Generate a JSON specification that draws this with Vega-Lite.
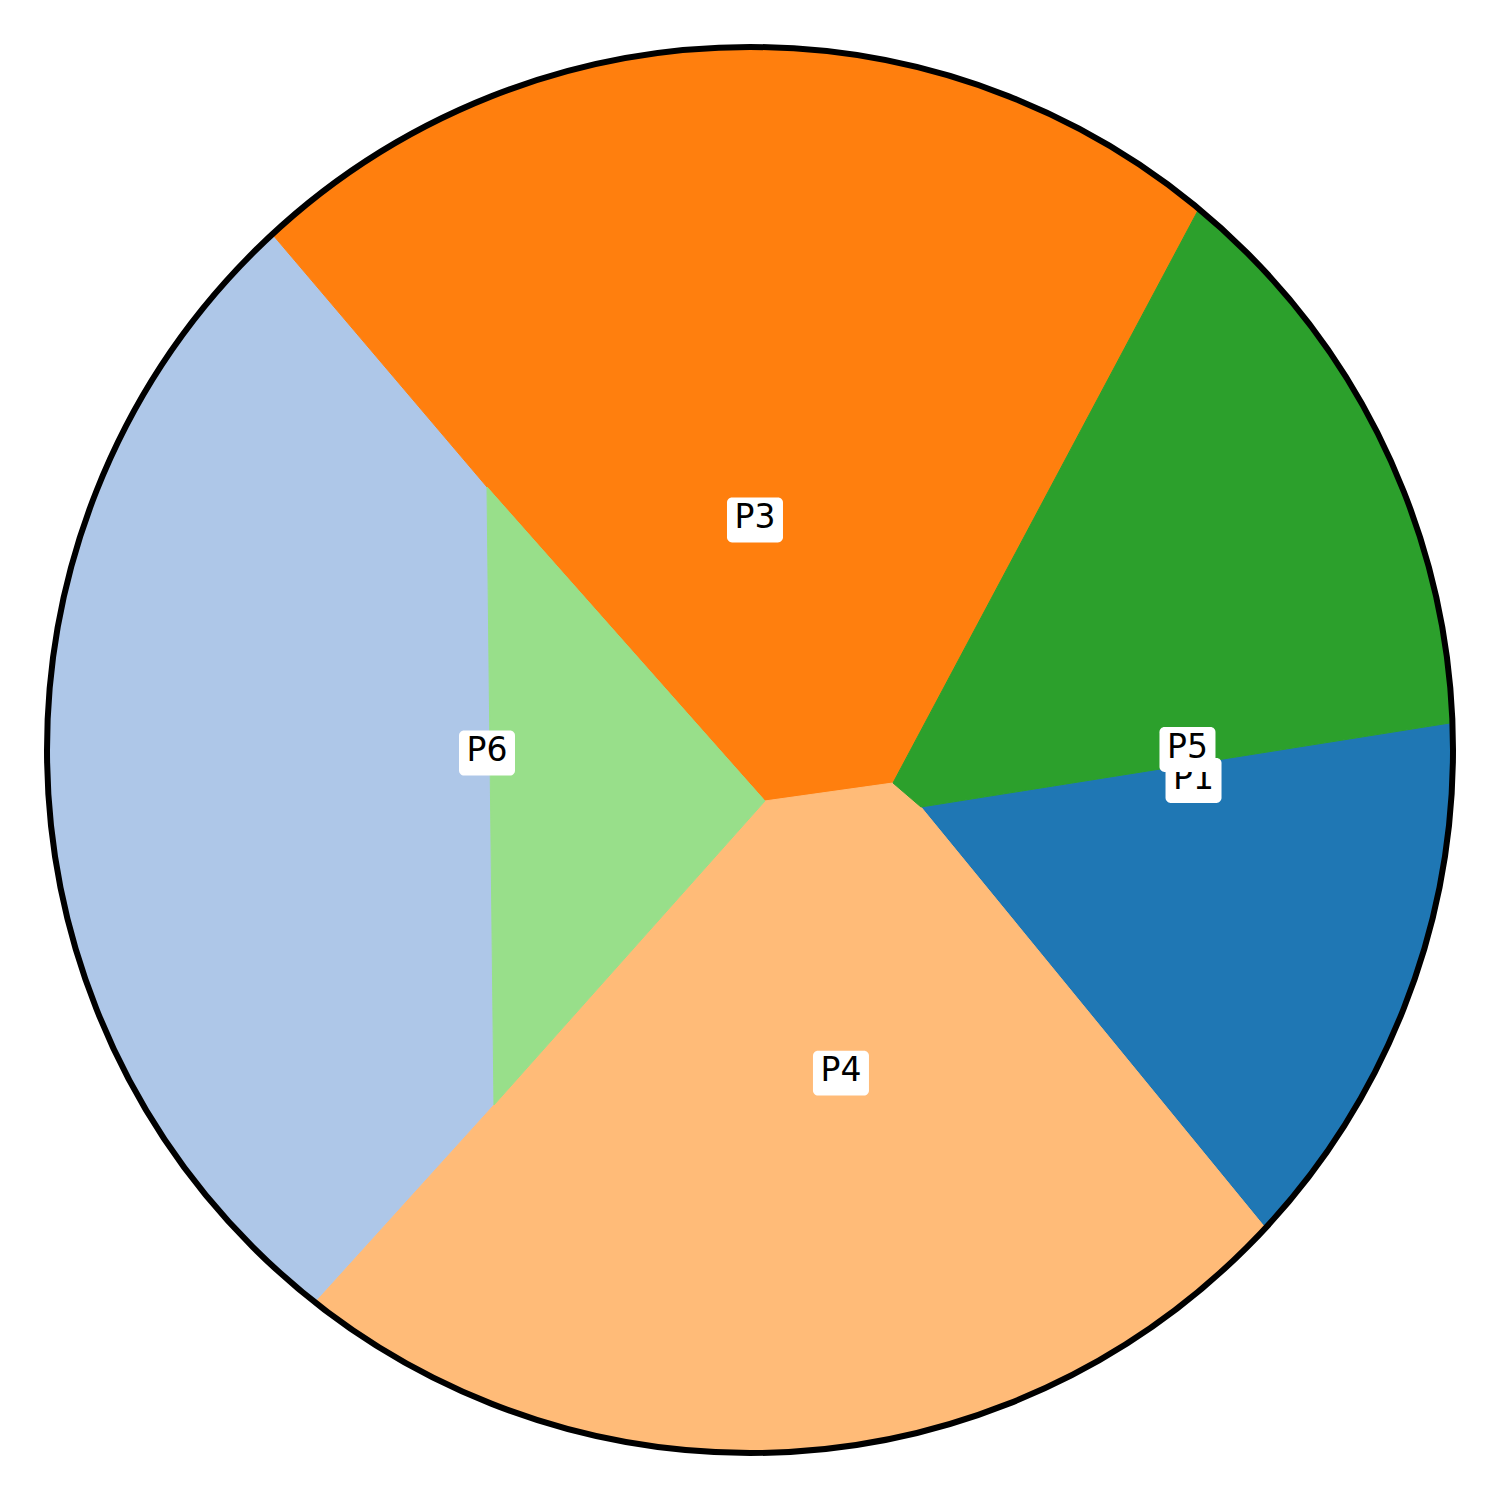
{
  "$schema": "https://vega.github.io/schema/vega-lite/v6.json",
  "width": 1500,
  "height": 1500,
  "autosize": {"type": "none"},
  "padding": 0,
  "background": "white",
  "config": {"view": {"stroke": null}},
  "projection": {"type": "identity", "scale": 703, "translate": [750, 750], "reflectY": true},
  "datasets": {
    "cells": [
      {"type": "Feature", "properties": {"cell": "P1"}, "geometry": {"type": "Polygon", "coordinates": [[[0.2432, -0.0811], [1.7482, 0.1579], [1.4595, -1.5676], [0.2432, -0.0811]]]}},
      {"type": "Feature", "properties": {"cell": "P2"}, "geometry": {"type": "Polygon", "coordinates": [[[-0.3741, 0.3741], [-1.5917, 1.8080], [-1.3585, -1.6031], [-0.3642, -0.5050], [-0.3741, 0.3741]]]}},
      {"type": "Feature", "properties": {"cell": "P3"}, "geometry": {"type": "Polygon", "coordinates": [[[-0.3741, 0.3741], [0.0213, -0.0725], [0.2034, -0.0469], [1.2859, 1.9851], [-1.5917, 1.8080], [-0.3741, 0.3741]]]}},
      {"type": "Feature", "properties": {"cell": "P4"}, "geometry": {"type": "Polygon", "coordinates": [[[0.0213, -0.0725], [-0.3642, -0.5050], [-1.3585, -1.6031], [1.4595, -1.5676], [0.2432, -0.0811], [0.2034, -0.0469], [0.0213, -0.0725]]]}},
      {"type": "Feature", "properties": {"cell": "P5"}, "geometry": {"type": "Polygon", "coordinates": [[[0.2034, -0.0469], [0.2432, -0.0811], [1.7482, 0.1579], [1.2859, 1.9851], [0.2034, -0.0469]]]}},
      {"type": "Feature", "properties": {"cell": "P6"}, "geometry": {"type": "Polygon", "coordinates": [[[-0.3741, 0.3741], [-0.3642, -0.5050], [0.0213, -0.0725], [-0.3741, 0.3741]]]}}
    ],
    "labels": [
      {"label": "P1", "x": 0.6309, "y": -0.0434},
      {"label": "P3", "x": 0.0071, "y": 0.3272},
      {"label": "P4", "x": 0.1294, "y": -0.4595},
      {"label": "P5", "x": 0.6223, "y": 0.0007},
      {"label": "P6", "x": -0.3741, "y": -0.0043}
    ],
    "circle": [{"x": 0, "y": 0}]
  },
  "layer": [
    {
      "data": {"name": "cells"},
      "mark": {"type": "geoshape", "strokeWidth": 1},
      "encoding": {
        "color": {"field": "properties.cell", "type": "nominal", "legend": null,
          "scale": {"domain": ["P1", "P2", "P3", "P4", "P5", "P6"], "range": ["#1f77b4", "#aec7e8", "#ff7f0e", "#ffbb78", "#2ca02c", "#98df8a"]}},
        "stroke": {"field": "properties.cell", "type": "nominal", "legend": null,
          "scale": {"domain": ["P1", "P2", "P3", "P4", "P5", "P6"], "range": ["#1f77b4", "#aec7e8", "#ff7f0e", "#ffbb78", "#2ca02c", "#98df8a"]}}
      }
    },
    {
      "data": {"name": "circle"},
      "mark": {"type": "point", "shape": "circle", "filled": false, "size": 3261636, "stroke": "white", "strokeWidth": 400, "opacity": 1},
      "encoding": {"longitude": {"field": "x", "type": "quantitative"}, "latitude": {"field": "y", "type": "quantitative"}}
    },
    {
      "data": {"name": "circle"},
      "mark": {"type": "point", "shape": "circle", "filled": false, "size": 1976836, "stroke": "black", "strokeWidth": 6, "opacity": 1},
      "encoding": {"longitude": {"field": "x", "type": "quantitative"}, "latitude": {"field": "y", "type": "quantitative"}}
    },
    {
      "data": {"name": "labels"},
      "transform": [{"filter": "datum.label !== 'P5'"}],
      "mark": {"type": "point", "shape": "M-0.82,-0.8H0.82A0.18,0.18 0 0 1 1,-0.62V0.62A0.18,0.18 0 0 1 0.82,0.8H-0.82A0.18,0.18 0 0 1 -1,0.62V-0.62A0.18,0.18 0 0 1 -0.82,-0.8Z", "filled": true, "fill": "white", "size": 3136, "opacity": 1, "strokeWidth": 0},
      "encoding": {"longitude": {"field": "x", "type": "quantitative"}, "latitude": {"field": "y", "type": "quantitative"}}
    },
    {
      "data": {"name": "labels"},
      "transform": [{"filter": "datum.label !== 'P5'"}],
      "mark": {"type": "text", "font": "DejaVu Sans", "fontSize": 33, "color": "black", "align": "center", "baseline": "middle", "dy": -2},
      "encoding": {"longitude": {"field": "x", "type": "quantitative"}, "latitude": {"field": "y", "type": "quantitative"}, "text": {"field": "label"}}
    },
    {
      "data": {"name": "labels"},
      "transform": [{"filter": "datum.label === 'P5'"}],
      "mark": {"type": "point", "shape": "M-0.82,-0.8H0.82A0.18,0.18 0 0 1 1,-0.62V0.62A0.18,0.18 0 0 1 0.82,0.8H-0.82A0.18,0.18 0 0 1 -1,0.62V-0.62A0.18,0.18 0 0 1 -0.82,-0.8Z", "filled": true, "fill": "white", "size": 3136, "opacity": 1, "strokeWidth": 0},
      "encoding": {"longitude": {"field": "x", "type": "quantitative"}, "latitude": {"field": "y", "type": "quantitative"}}
    },
    {
      "data": {"name": "labels"},
      "transform": [{"filter": "datum.label === 'P5'"}],
      "mark": {"type": "text", "font": "DejaVu Sans", "fontSize": 33, "color": "black", "align": "center", "baseline": "middle", "dy": -2},
      "encoding": {"longitude": {"field": "x", "type": "quantitative"}, "latitude": {"field": "y", "type": "quantitative"}, "text": {"field": "label"}}
    }
  ]
}
